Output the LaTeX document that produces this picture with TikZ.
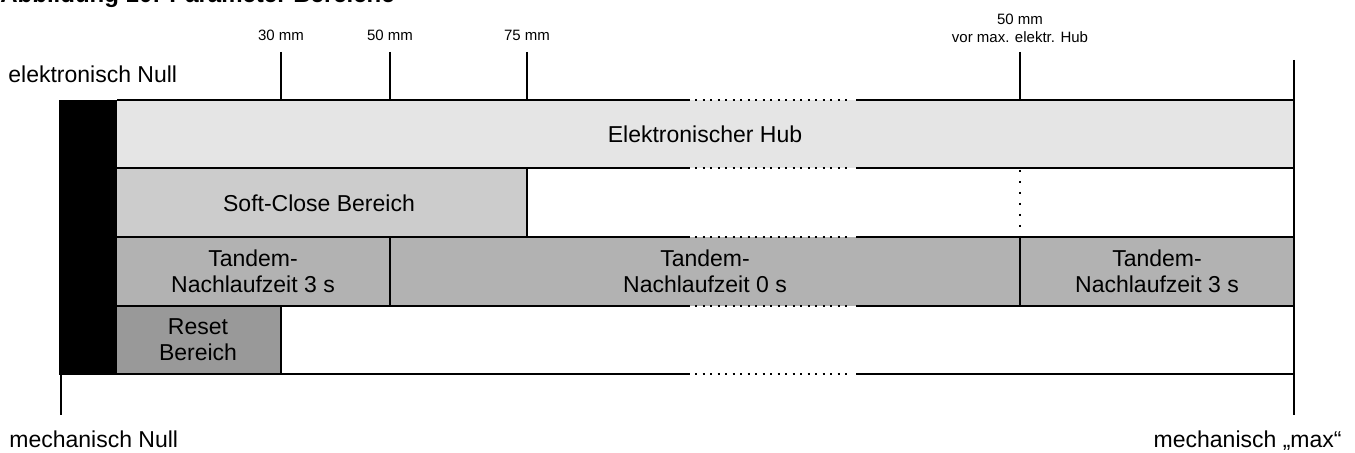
\documentclass[tikz,border=0pt]{standalone}
\usepackage{fontspec}
\setmainfont{Liberation Sans}

\begin{document}
\begin{tikzpicture}[x=0.5pt, y=-0.5pt,
  ln/.style={line width=1.2pt},
  dotl/.style={line width=1pt, dash pattern=on 1pt off 2.75pt},
  vdot/.style={line width=1pt, dash pattern=on 1pt off 4.5pt},
  txt/.style={font=\fontsize{11.5}{13}\selectfont, align=center, inner sep=0pt},
  tick/.style={font=\fontsize{7.5}{8.75}\selectfont, align=center, inner sep=0pt}]
\useasboundingbox (0,0) rectangle (1355,453);
% title, cut off at the top edge
\node[anchor=base west, inner sep=0pt, font=\fontsize{12}{14}\selectfont\bfseries] (title) at (0,3) {Abbildung 10: Parameter Bereiche};
% areas
\foreach \xa/\xb/\ya/\yb/\c in {117/1294/100/168/20, 117/527/168/237/40, 117/390/237/306/60, 390/1020/237/306/60, 1020/1294/237/306/60, 117/281/306/374/80} { \fill[gray!\c] (\xa,\ya) rectangle (\xb,\yb); }
\fill (59,100) rectangle (117,375);
\node[txt] (hub) at (705,134) {Elektronischer Hub};
\node[txt] (soft) at (319,203) {Soft-Close Bereich};
\node[txt] (tanA) at (253,271.5) {Tandem-\\Nachlaufzeit 3 s};
\node[txt] (tanB) at (705,271.5) {Tandem-\\Nachlaufzeit 0 s};
\node[txt] (tanC) at (1157,271.5) {Tandem-\\Nachlaufzeit 3 s};
\node[txt] (reset) at (198,340) {Reset\\Bereich};
% rows, broken in the middle
\foreach \y in {100,168,237,306,374} { \draw[ln] (117,\y) -- (690,\y); \draw[dotl] (695,\y) -- (849,\y); \draw[ln] (856,\y) -- (1294,\y); }
\draw[ln] (527,168) -- (527,237);
\draw[ln] (390,237) -- (390,306);
\draw[ln] (1020,237) -- (1020,306);
\draw[ln] (281,306) -- (281,374);
\draw[vdot] (1020,170) -- (1020,237);
% scale marks
\foreach \x/\l in {281/30, 390/50, 527/75} { \draw[line width=1pt] (\x,52) -- (\x,100); \node[tick, anchor=base] (mm\l) at (\x,41) {\l\ mm}; }
\draw[line width=1pt] (1020,52) -- (1020,100);
\node[tick] (mmend) at (1020,28.4) {50 mm\\vor max. elektr. Hub};
\draw[ln] (1294,60) -- (1294,415);
\draw[line width=1pt] (61,374) -- (61,415);
\node[txt, anchor=base west] (enull) at (8,83) {elektronisch Null};
\node[txt, anchor=base west] (mnull) at (9,448) {mechanisch Null};
\node[txt, anchor=base east] (mmax) at (1342,448) {mechanisch „max“};
\end{tikzpicture}
\end{document}
